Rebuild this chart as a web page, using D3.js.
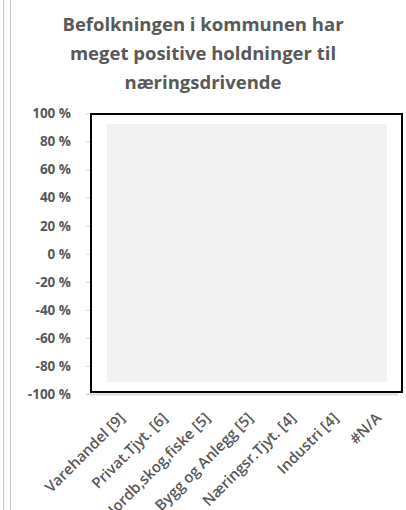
<!DOCTYPE html>
<html>
<head>
<meta charset="utf-8">
<script src="https://cdn.jsdelivr.net/npm/d3@7"></script>
<style>
  body { margin: 0; background: #fff; }
  svg { display: block; }
  text { font-family: "Open Sans", sans-serif; fill: #595959; }
</style>
</head>
<body>
<svg id="chart" width="406" height="510"></svg>
<script>
// chart data
const titleLines = ["Befolkningen i kommunen har", "meget positive holdninger til", "næringsdrivende"];
const categories = ["Varehandel [9]", "Privat.Tjyt. [6]", "Jordb,skog,fiske [5]", "Bygg og Anlegg [5]", "Næringsr.Tjyt. [4]", "Industri [4]", "#N/A"];
const values = [null, null, null, null, null, null, null]; // all #N/A in the sheet
const yTicks = [1, 0.8, 0.6, 0.4, 0.2, 0, -0.2, -0.4, -0.6, -0.8, -1];

const svg = d3.select("#chart");

// sheet gridlines at the left edge
svg.selectAll(".sheet-line")
  .data([3.5, 10.5])
  .enter()
  .append("line")
  .attr("x1", d => d).attr("x2", d => d)
  .attr("y1", 0).attr("y2", 510)
  .attr("stroke", "#c8c8c8")
  .attr("stroke-width", 1);

// Title
svg.append("text")
  .attr("text-anchor", "middle")
  .attr("font-size", "18.5px")
  .attr("font-weight", "bold")
  .selectAll("tspan")
  .data(titleLines)
  .enter()
  .append("tspan")
  .attr("x", 203)
  .attr("y", (d, i) => 31 + i * 29)
  .text(d => d);

// Scales
const xScale = d3.scaleBand()
  .domain(categories)
  .range([91, 403])
  .padding(0.3);

const yScale = d3.scaleLinear()
  .domain([-1, 1])
  .range([394, 113.5]);

// y axis: labels + small tick marks
const yAxis = d3.axisLeft(yScale)
  .tickValues(yTicks)
  .tickSize(5)
  .tickPadding(15)
  .tickFormat(d => `${ Math.round(d * 100) } %`);

const yG = svg.append("g")
  .attr("transform", "translate(91, 0)")
  .call(yAxis);
yG.select(".domain").remove();
yG.selectAll("line").attr("stroke", "#d9d9d9");
yG.selectAll("text")
  .attr("font-size", "13.5px")
  .attr("font-weight", "bold")
  .attr("fill", "#595959")
  .style("font-family", "'Open Sans', sans-serif");

// horizontal axis line
svg.append("line")
  .attr("x1", 86).attr("x2", 398)
  .attr("y1", yScale(-1) + 0.5).attr("y2", yScale(-1) + 0.5)
  .attr("stroke", "#d9d9d9")
  .attr("stroke-width", 2);

// bars (none have values)
svg.selectAll(".bar")
  .data(categories.map((c, i) => ({ c, v: values[i] })).filter(d => d.v !== null))
  .enter()
  .append("rect")
  .attr("class", "bar")
  .attr("x", d => xScale(d.c))
  .attr("y", d => yScale(Math.max(0, d.v)))
  .attr("width", xScale.bandwidth())
  .attr("height", d => Math.abs(yScale(d.v) - yScale(0)))
  .attr("fill", "#4472c4");

// empty grey area inside the frame
svg.append("rect")
  .attr("x", 107).attr("y", 124)
  .attr("width", 280).attr("height", 258)
  .attr("fill", "#f2f2f2");

// selection frame
svg.append("rect")
  .attr("x", 91).attr("y", 114)
  .attr("width", 311).attr("height", 278)
  .attr("fill", "none")
  .attr("stroke", "#000")
  .attr("stroke-width", 2);

// x labels, rotated
svg.selectAll(".x-label")
  .data(categories)
  .enter()
  .append("text")
  .attr("class", "x-label")
  .attr("text-anchor", "end")
  .attr("font-size", "15px")
  .attr("font-weight", "600")
  .attr("transform", d => `translate(${ xScale(d) + xScale.bandwidth() / 2 + 7 }, 419) rotate(-45)`)
  .text(d => d);
</script>
</body>
</html>
